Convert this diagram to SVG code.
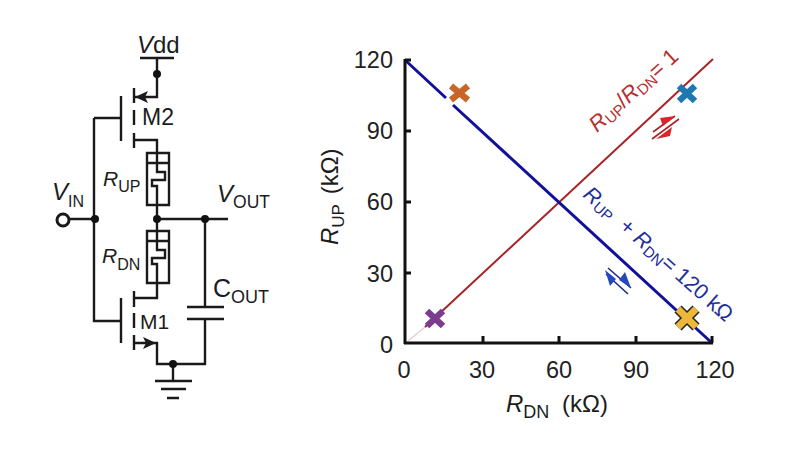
<svg xmlns="http://www.w3.org/2000/svg" width="800" height="450" viewBox="0 0 800 450">
<style>
text{font-family:"Liberation Sans",Arial,sans-serif;fill:#1c1c1c}
.w{fill:none;stroke:#1a1a1a;stroke-width:2.4}
.d{fill:#111}
.a{font-size:23.5px;fill:#222}
.i{font-style:italic}
.wire{fill:none;stroke:#1a1a1a;stroke-width:2.4}
.x{fill:none;stroke-width:6.5}
</style>
<defs>
<g id="res"><path class="w" d="M-10 0H12V52H-10ZM-10 10H12M0 0V19H8V27H-5V33H0V52"/></g>
</defs>
<rect width="800" height="450" fill="#fff"/>
<g id="connectors">
<path class="wire" d="M157 58V97H135"/>
<path class="wire" d="M135 140H157V153"/>
<path class="wire" d="M157 205V232M157 283V298H135"/>
<path class="wire" d="M68 219H95M157 219H228"/>
<path class="wire" d="M94 118V321H121M94 118H121"/>
<path class="wire" d="M205 219V307M205 319V364H157V343H135"/>
<path class="wire" d="M173 364V381"/>
</g>
<g id="vdd"><text x="137" y="53" style="font-size:24px"><tspan class="i">V</tspan>dd</text><path class="w" d="M140 58H174"/><circle class="d" cx="157" cy="74" r="4"/></g>
<g id="vin"><text x="52" y="200" style="font-size:24px;font-style:italic">V<tspan style="font-size:16px;font-style:normal" dy="7">IN</tspan></text><circle cx="63" cy="220" r="6" fill="#fff" stroke="#1a1a1a" stroke-width="3"/><circle class="d" cx="95" cy="219" r="4"/></g>
<g id="m2"><path class="w" d="M121 96V141M134 88V103M134 110V125M134 133V148"/><path d="M135 97L148 91L145 97L148 103Z" fill="#1a1a1a"/><text x="142" y="125" style="font-size:23px">M2</text></g>
<g id="rup"><use href="#res" x="157" y="153"/><text x="103" y="186" style="font-size:21px;font-style:italic">R<tspan style="font-size:16px;font-style:normal" dy="6">UP</tspan></text></g>
<g id="vout"><text x="217" y="202" style="font-size:24px;font-style:italic">V<tspan style="font-size:17.5px;font-style:normal" dy="6">OUT</tspan></text><circle class="d" cx="157" cy="219" r="4"/><circle class="d" cx="205" cy="219" r="4"/></g>
<g id="rdn"><use href="#res" x="157" y="231"/><text x="102" y="263" style="font-size:21px;font-style:italic">R<tspan style="font-size:16px;font-style:normal" dy="7">DN</tspan></text></g>
<g id="m1"><path class="w" d="M121 298V343M134 291V307M134 313V328M134 335V350"/><path d="M156 343L143 337L146 343L143 349Z" fill="#1a1a1a"/><text x="140" y="329" style="font-size:21px">M1</text></g>
<g id="cout"><text x="213" y="297" style="font-size:25px">C<tspan style="font-size:18px" dy="6">OUT</tspan></text><path class="w" d="M187 307H224M187 319H224"/></g>
<g id="gnd"><circle class="d" cx="173" cy="364" r="4"/><path class="w" d="M155 381H192M161 389H186M167 398H179"/></g>
<g id="chart">
<path fill="none" stroke="#e6d0d2" stroke-width="1.5" d="M408 341L425 327"/>
<path fill="none" stroke="#a82428" stroke-width="2" d="M425 327L713 59"/>
<path fill="none" stroke="#11119a" stroke-width="3" d="M405 60L446 98M453 105L712 343"/>
<path fill="none" stroke="#111" stroke-width="3" d="M405 59V344M404 343H713M405 60H411M405 131H411M405 202H411M405 273H411M483 343V336M559 343V336M636 343V336M712 343V336"/>
<text class="a" x="393" y="68" text-anchor="end">120</text>
<text class="a" x="393" y="139" text-anchor="end">90</text>
<text class="a" x="393" y="210" text-anchor="end">60</text>
<text class="a" x="393" y="282" text-anchor="end">30</text>
<text class="a" x="393" y="353" text-anchor="end">0</text>
<text class="a" x="404" y="378" text-anchor="middle">0</text>
<text class="a" x="482" y="378" text-anchor="middle">30</text>
<text class="a" x="559" y="378" text-anchor="middle">60</text>
<text class="a" x="636" y="378" text-anchor="middle">90</text>
<text class="a" x="715" y="378" text-anchor="middle">120</text>
<text x="506" y="412" style="font-size:24px"><tspan class="i">R</tspan><tspan style="font-size:18px" dy="6">DN</tspan><tspan dy="-6" dx="6"> (kΩ)</tspan></text>
<text transform="translate(338 245) rotate(-90)" style="font-size:24px"><tspan class="i">R</tspan><tspan style="font-size:17px" dy="6">UP</tspan><tspan dy="-6" dx="3"> (kΩ)</tspan></text>
<text transform="translate(597 133) rotate(-42)" style="font-size:22px;fill:#b5302f"><tspan class="i">R</tspan><tspan style="font-size:15px" dy="3">UP</tspan><tspan dy="-3">/</tspan><tspan class="i">R</tspan><tspan style="font-size:15px" dy="3">DN</tspan><tspan dy="-3">= 1</tspan></text>
<text transform="translate(582 196) rotate(41.5)" style="font-size:21.5px;fill:#1f2f9a;white-space:pre"><tspan class="i">R</tspan><tspan style="font-size:15px" dy="3">UP</tspan><tspan dy="-3">  + </tspan><tspan class="i">R</tspan><tspan style="font-size:15px" dy="3">DN</tspan><tspan dy="-3">= 120 kΩ</tspan></text>
<path fill="none" stroke="#a82428" stroke-width="1.6" d="M653 132L675 116M652 139L679 119"/>
<path fill="#d8262a" d="M675 116L660 118L663 126ZM656 139L672 127L670 136Z"/>
<path fill="none" stroke="#1b2a8a" stroke-width="1.6" d="M608 268L631 288M606 274L628 294"/>
<path fill="#2548c0" d="M605 270L610 286L616 279ZM631 288L625 272L619 280Z"/>
<path class="x" stroke="#c8662a" d="M451 86L468 100M468 86L451 100"/>
<path class="x" stroke="#1f78b0" d="M679 86L695 101M695 86L679 101"/>
<path class="x" stroke="#7b3b8f" d="M427 311L443 326M443 311L427 326"/>
<path stroke="#222" stroke-width="10" d="M678 309L696 327M696 309L678 327"/>
<path stroke="#edb83a" stroke-width="7" d="M678 309L696 327M696 309L678 327"/>
</g>
</svg>
